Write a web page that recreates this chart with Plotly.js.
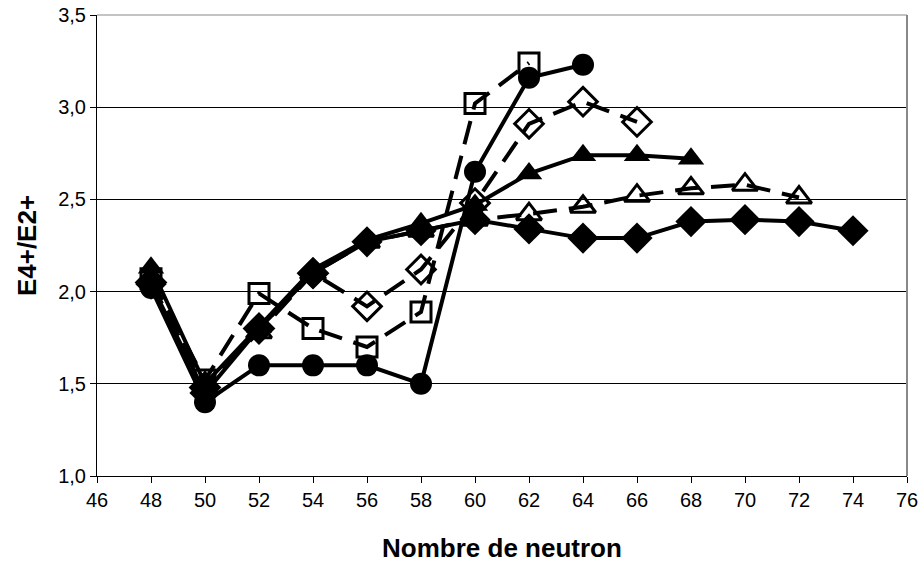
<!DOCTYPE html>
<html>
<head>
<meta charset="utf-8">
<script src="https://cdn.plot.ly/plotly-3.0.1.min.js"></script>
<style>html,body{margin:0;padding:0;background:#fff;}#chart{width:922px;height:563px;}</style>
</head>
<body>
<div id="chart"></div>
<script>
var nSquare = [48, 50, 52, 54, 56, 58, 60, 62];
var vSquare = [2.07, 1.52, 1.99, 1.80, 1.70, 1.89, 3.02, 3.24];

var nOpenDiamond = [48, 50, 52, 54, 56, 58, 60, 62, 64, 66];
var vOpenDiamond = [2.05, 1.48, 1.80, 2.10, 1.92, 2.12, 2.48, 2.91, 3.03, 2.92];

var nOpenTriangle = [48, 50, 52, 54, 56, 58, 60, 62, 64, 66, 68, 70, 72];
var vOpenTriangle = [2.07, 1.50, 1.78, 2.10, 2.27, 2.33, 2.39, 2.42, 2.46, 2.52, 2.56, 2.58, 2.51];

var nFilledDiamond = [48, 50, 52, 54, 56, 58, 60, 62, 64, 66, 68, 70, 72, 74];
var vFilledDiamond = [2.04, 1.45, 1.80, 2.10, 2.27, 2.33, 2.39, 2.34, 2.29, 2.29, 2.38, 2.39, 2.38, 2.33];

var nFilledTriangle = [48, 50, 52, 54, 56, 58, 60, 62, 64, 66, 68];
var vFilledTriangle = [2.13, 1.50, 1.81, 2.12, 2.28, 2.37, 2.47, 2.64, 2.74, 2.74, 2.72];

var nCircle = [48, 50, 52, 54, 56, 58, 60, 62, 64];
var vCircle = [2.02, 1.40, 1.60, 1.60, 1.60, 1.50, 2.65, 3.16, 3.23];

var xTicks = [46, 48, 50, 52, 54, 56, 58, 60, 62, 64, 66, 68, 70, 72, 74, 76];
var yTicks = [1.0, 1.5, 2.0, 2.5, 3.0, 3.5];
var yTickText = ["1,0", "1,5", "2,0", "2,5", "3,0", "3,5"];

function tr(x, y, sym, size, dash, mlw) {
  return {
    x: x, y: y, type: 'scatter', mode: 'lines+markers',
    line: {color: '#000', width: 4, dash: dash},
    marker: {symbol: sym, size: size, color: '#000', line: {color: '#000', width: mlw}},
    hoverinfo: 'none', showlegend: false
  };
}

var data = [
  tr(nSquare, vSquare, 'square-open', 20, '24px,12px', 3),
  tr(nOpenDiamond, vOpenDiamond, 'diamond-open', 22, '24px,12px', 3),
  tr(nOpenTriangle, vOpenTriangle, 'triangle-up-open', 22, '24px,12px', 3),
  tr(nFilledDiamond, vFilledDiamond, 'diamond', 24, 'solid', 0),
  tr(nFilledTriangle, vFilledTriangle, 'triangle-up', 23, 'solid', 0),
  tr(nCircle, vCircle, 'circle', 22, 'solid', 0)
];

var layout = {
  width: 922, height: 563,
  margin: {l: 97, r: 15, t: 15, b: 87},
  paper_bgcolor: '#fff', plot_bgcolor: '#fff',
  font: {family: 'Liberation Sans, Arial, sans-serif', color: '#000'},
  xaxis: {
    range: [46, 76], tickvals: xTicks, ticktext: xTicks.map(String),
    ticks: 'outside', ticklen: 6, tickcolor: '#000', tickwidth: 1,
    showline: true, linecolor: '#000', linewidth: 1, mirror: false,
    showgrid: false, zeroline: false,
    tickfont: {size: 20, color: '#000'},
    title: {text: '<b>Nombre de neutron</b>', font: {size: 26, color: '#000'}, standoff: 28}
  },
  yaxis: {
    range: [1.0, 3.5], tickvals: yTicks, ticktext: yTickText,
    ticks: 'outside', ticklen: 6, tickcolor: '#000', tickwidth: 1,
    showline: true, linecolor: '#000', linewidth: 1,
    showgrid: true, gridcolor: '#000', gridwidth: 1, zeroline: false,
    tickfont: {size: 20, color: '#000'},
    title: {text: '<b>E4+/E2+</b>', font: {size: 26, color: '#000'}, standoff: 14}
  },
  shapes: [
    {type: 'line', xref: 'paper', yref: 'paper', x0: 1, x1: 1, y0: 0, y1: 1, line: {color: '#888', width: 2}},
    {type: 'line', xref: 'paper', yref: 'paper', x0: 0, x1: 1, y0: 1, y1: 1, line: {color: '#888', width: 1}}
  ]
};

Plotly.newPlot('chart', data, layout, {displayModeBar: false, staticPlot: true});
</script>
</body>
</html>
